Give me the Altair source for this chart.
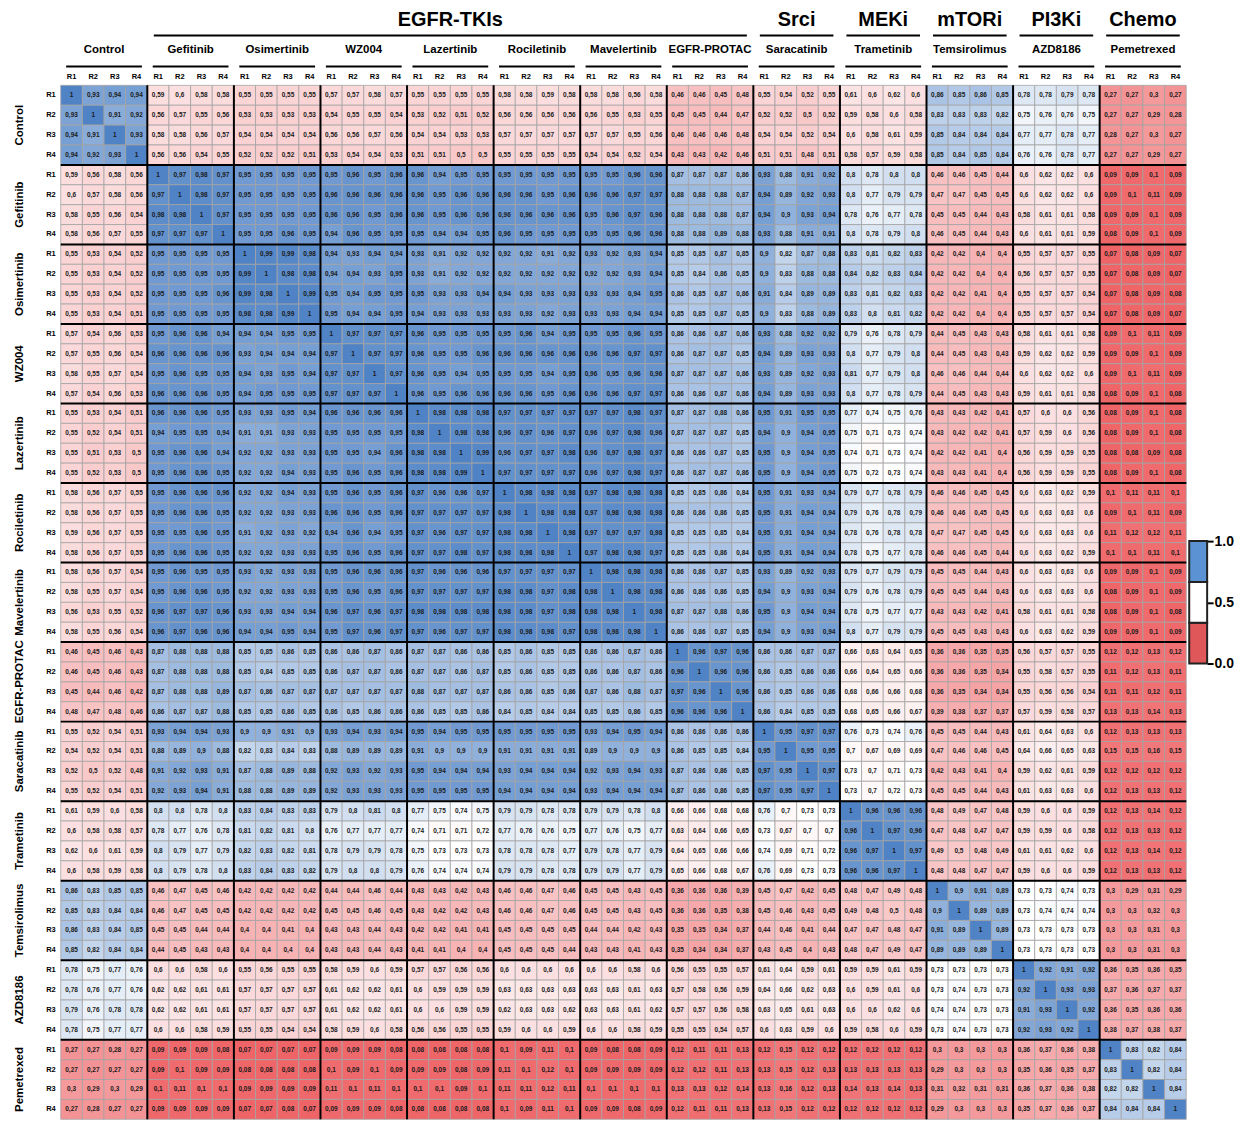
import altair as alt
import pandas as pd

drugs = ["Control", "Gefitinib", "Osimertinib", "WZ004", "Lazertinib", "Rociletinib",
         "Mavelertinib", "EGFR-PROTAC", "Saracatinib", "Trametinib", "Temsirolimus",
         "AZD8186", "Pemetrexed"]
reps = ["R1", "R2", "R3", "R4"]
classes = ["EGFR-TKIs", "Srci", "MEKi", "mTORi", "PI3Ki", "Chemo"]
class_first = [1, 8, 9, 10, 11, 12]
class_last = [7, 8, 9, 10, 11, 12]

# Upper-triangle blocks of the 52x52 correlation matrix (13x13 each)
U00 = [
    [1, .93, .94, .94, .59, .6, .58, .58, .55, .55, .55, .55, .57],
    [.93, 1, .91, .92, .56, .57, .55, .56, .53, .53, .53, .53, .54],
    [.94, .91, 1, .93, .58, .58, .56, .57, .54, .54, .54, .54, .56],
    [.94, .92, .93, 1, .56, .56, .54, .55, .52, .52, .52, .51, .53],
    [.59, .56, .58, .56, 1, .97, .98, .97, .95, .95, .95, .95, .95],
    [.6, .57, .58, .56, .97, 1, .98, .97, .95, .95, .95, .95, .96],
    [.58, .55, .56, .54, .98, .98, 1, .97, .95, .95, .95, .95, .96],
    [.58, .56, .57, .55, .97, .97, .97, 1, .95, .95, .96, .95, .94],
    [.55, .53, .54, .52, .95, .95, .95, .95, 1, .99, .99, .98, .94],
    [.55, .53, .54, .52, .95, .95, .95, .95, .99, 1, .98, .98, .94],
    [.55, .53, .54, .52, .95, .95, .95, .96, .99, .98, 1, .99, .95],
    [.55, .53, .54, .51, .95, .95, .95, .95, .98, .98, .99, 1, .95],
    [.57, .54, .56, .53, .95, .96, .96, .94, .94, .94, .95, .95, 1],
]
U01 = [
    [.57, .58, .57, .55, .55, .55, .55, .58, .58, .59, .58, .58, .58],
    [.55, .55, .54, .53, .52, .51, .52, .56, .56, .56, .56, .56, .55],
    [.56, .57, .56, .54, .54, .53, .53, .57, .57, .57, .57, .57, .57],
    [.54, .54, .53, .51, .51, .5, .5, .55, .55, .55, .55, .54, .54],
    [.96, .95, .96, .96, .94, .95, .95, .95, .95, .95, .95, .95, .95],
    [.96, .96, .96, .96, .95, .96, .96, .96, .96, .95, .96, .96, .96],
    [.96, .95, .96, .96, .95, .96, .96, .96, .96, .96, .96, .95, .96],
    [.96, .95, .95, .95, .94, .94, .95, .96, .95, .95, .95, .95, .95],
    [.93, .94, .94, .93, .91, .92, .92, .92, .92, .91, .92, .93, .92],
    [.94, .93, .95, .93, .91, .92, .92, .92, .92, .92, .92, .92, .92],
    [.94, .95, .95, .95, .93, .93, .94, .94, .93, .93, .93, .93, .93],
    [.94, .94, .95, .94, .93, .93, .93, .93, .93, .92, .93, .93, .93],
    [.97, .97, .97, .96, .95, .95, .95, .95, .96, .94, .95, .95, .95],
]
U02 = [
    [.56, .58, .46, .46, .45, .48, .55, .54, .52, .55, .61, .6, .62],
    [.53, .55, .45, .45, .44, .47, .52, .52, .5, .52, .59, .58, .6],
    [.55, .56, .46, .46, .46, .48, .54, .54, .52, .54, .6, .58, .61],
    [.52, .54, .43, .43, .42, .46, .51, .51, .48, .51, .58, .57, .59],
    [.96, .96, .87, .87, .87, .86, .93, .88, .91, .92, .8, .78, .8],
    [.97, .97, .88, .88, .88, .87, .94, .89, .92, .93, .8, .77, .79],
    [.97, .96, .88, .88, .88, .87, .94, .9, .93, .94, .78, .76, .77],
    [.96, .96, .88, .88, .89, .88, .93, .88, .91, .91, .8, .78, .79],
    [.93, .94, .85, .85, .87, .85, .9, .82, .87, .88, .83, .81, .82],
    [.93, .94, .85, .84, .86, .85, .9, .83, .88, .88, .84, .82, .83],
    [.94, .95, .86, .85, .87, .86, .91, .84, .89, .89, .83, .81, .82],
    [.94, .94, .85, .85, .87, .85, .9, .83, .88, .89, .83, .8, .81],
    [.96, .95, .86, .86, .87, .86, .93, .88, .92, .92, .79, .76, .78],
]
U03 = [
    [.6, .86, .85, .86, .85, .78, .78, .79, .78, .27, .27, .3, .27],
    [.58, .83, .83, .83, .82, .75, .76, .76, .75, .27, .27, .29, .28],
    [.59, .85, .84, .84, .84, .77, .77, .78, .77, .28, .27, .3, .27],
    [.58, .85, .84, .85, .84, .76, .76, .78, .77, .27, .27, .29, .27],
    [.8, .46, .46, .45, .44, .6, .62, .62, .6, .09, .09, .1, .09],
    [.79, .47, .47, .45, .45, .6, .62, .62, .6, .09, .1, .11, .09],
    [.78, .45, .45, .44, .43, .58, .61, .61, .58, .09, .09, .1, .09],
    [.8, .46, .45, .44, .43, .6, .61, .61, .59, .08, .09, .1, .09],
    [.83, .42, .42, .4, .4, .55, .57, .57, .55, .07, .08, .09, .07],
    [.84, .42, .42, .4, .4, .56, .57, .57, .55, .07, .08, .09, .07],
    [.83, .42, .42, .41, .4, .55, .57, .57, .54, .07, .08, .09, .08],
    [.82, .42, .42, .4, .4, .55, .57, .57, .54, .07, .08, .09, .07],
    [.79, .44, .45, .43, .43, .58, .61, .61, .58, .09, .1, .11, .09],
]
U11 = [
    [1, .97, .97, .96, .95, .95, .96, .96, .96, .96, .96, .96, .96],
    [.97, 1, .97, .96, .95, .94, .95, .95, .95, .94, .95, .96, .95],
    [.97, .97, 1, .96, .95, .96, .96, .96, .96, .95, .96, .96, .96],
    [.96, .96, .96, 1, .98, .98, .98, .97, .97, .97, .97, .97, .97],
    [.95, .95, .95, .98, 1, .98, .98, .96, .97, .96, .97, .96, .97],
    [.95, .94, .96, .98, .98, 1, .99, .96, .97, .97, .98, .96, .97],
    [.96, .95, .96, .98, .98, .99, 1, .97, .97, .97, .97, .96, .97],
    [.96, .95, .96, .97, .96, .96, .97, 1, .98, .98, .98, .97, .98],
    [.96, .95, .96, .97, .97, .97, .97, .98, 1, .98, .98, .97, .98],
    [.96, .94, .95, .97, .96, .97, .97, .98, .98, 1, .98, .97, .97],
    [.96, .95, .96, .97, .97, .98, .97, .98, .98, .98, 1, .97, .98],
    [.96, .96, .96, .97, .96, .96, .96, .97, .97, .97, .97, 1, .98],
    [.96, .95, .96, .97, .97, .97, .97, .98, .98, .97, .98, .98, 1],
]
U12 = [
    [.97, .97, .86, .87, .87, .85, .94, .89, .93, .93, .8, .77, .79],
    [.96, .96, .87, .87, .87, .86, .93, .89, .92, .93, .81, .77, .79],
    [.97, .97, .86, .86, .87, .86, .94, .89, .93, .93, .8, .77, .78],
    [.98, .97, .87, .87, .88, .86, .95, .91, .95, .95, .77, .74, .75],
    [.98, .96, .87, .87, .87, .85, .94, .9, .94, .95, .75, .71, .73],
    [.98, .97, .86, .86, .87, .85, .95, .9, .94, .95, .74, .71, .73],
    [.98, .97, .86, .87, .87, .86, .95, .9, .94, .95, .75, .72, .73],
    [.98, .98, .85, .85, .86, .84, .95, .91, .93, .94, .79, .77, .78],
    [.98, .98, .86, .86, .86, .85, .95, .91, .94, .94, .79, .76, .78],
    [.97, .98, .85, .85, .85, .84, .95, .91, .94, .94, .78, .76, .78],
    [.98, .97, .85, .85, .86, .84, .95, .91, .94, .94, .78, .75, .77],
    [.98, .98, .86, .86, .87, .85, .93, .89, .92, .93, .79, .77, .79],
    [.98, .98, .86, .86, .86, .85, .94, .9, .93, .94, .79, .76, .78],
]
U13 = [
    [.8, .44, .45, .43, .43, .59, .62, .62, .59, .09, .09, .1, .09],
    [.8, .46, .46, .44, .44, .6, .62, .62, .6, .09, .1, .11, .09],
    [.79, .44, .45, .43, .43, .59, .61, .61, .58, .08, .09, .1, .08],
    [.76, .43, .43, .42, .41, .57, .6, .6, .56, .08, .09, .1, .08],
    [.74, .43, .42, .42, .41, .57, .59, .6, .56, .08, .09, .1, .08],
    [.74, .42, .42, .41, .4, .56, .59, .59, .55, .08, .08, .09, .08],
    [.74, .43, .43, .41, .4, .56, .59, .59, .55, .08, .09, .1, .08],
    [.79, .46, .46, .45, .45, .6, .63, .62, .59, .1, .11, .11, .1],
    [.79, .46, .46, .45, .45, .6, .63, .63, .6, .09, .1, .11, .09],
    [.78, .47, .47, .45, .45, .6, .63, .63, .6, .11, .12, .12, .11],
    [.78, .46, .46, .45, .44, .6, .63, .62, .59, .1, .1, .11, .1],
    [.79, .45, .45, .44, .43, .6, .63, .63, .6, .09, .09, .1, .09],
    [.79, .45, .45, .44, .43, .6, .63, .63, .6, .08, .09, .1, .09],
]
U22 = [
    [1, .98, .87, .87, .88, .86, .95, .9, .94, .94, .78, .75, .77],
    [.98, 1, .86, .86, .87, .85, .94, .9, .93, .94, .8, .77, .79],
    [.87, .86, 1, .96, .97, .96, .86, .86, .87, .87, .66, .63, .64],
    [.87, .86, .96, 1, .96, .96, .86, .85, .86, .86, .66, .64, .65],
    [.88, .87, .97, .96, 1, .96, .86, .85, .86, .86, .68, .66, .66],
    [.86, .85, .96, .96, .96, 1, .86, .84, .85, .85, .68, .65, .66],
    [.95, .94, .86, .86, .86, .86, 1, .95, .97, .97, .76, .73, .74],
    [.9, .9, .86, .85, .85, .84, .95, 1, .95, .95, .7, .67, .69],
    [.94, .93, .87, .86, .86, .85, .97, .95, 1, .97, .73, .7, .71],
    [.94, .94, .87, .86, .86, .85, .97, .95, .97, 1, .73, .7, .72],
    [.78, .8, .66, .66, .68, .68, .76, .7, .73, .73, 1, .96, .96],
    [.75, .77, .63, .64, .66, .65, .73, .67, .7, .7, .96, 1, .97],
    [.77, .79, .64, .65, .66, .66, .74, .69, .71, .72, .96, .97, 1],
]
U23 = [
    [.77, .43, .43, .42, .41, .58, .61, .61, .58, .08, .09, .1, .08],
    [.79, .45, .45, .43, .43, .6, .63, .62, .59, .09, .09, .1, .09],
    [.65, .36, .36, .35, .35, .56, .57, .57, .55, .12, .12, .13, .12],
    [.66, .36, .36, .35, .34, .55, .58, .57, .55, .11, .12, .13, .11],
    [.68, .36, .35, .34, .34, .55, .56, .56, .54, .11, .11, .12, .11],
    [.67, .39, .38, .37, .37, .57, .59, .58, .57, .13, .13, .14, .13],
    [.76, .45, .45, .44, .43, .61, .64, .63, .6, .12, .13, .13, .13],
    [.69, .47, .46, .46, .45, .64, .66, .65, .63, .15, .15, .16, .15],
    [.73, .42, .43, .41, .4, .59, .62, .61, .59, .12, .12, .12, .12],
    [.73, .45, .45, .44, .43, .61, .63, .63, .6, .12, .13, .13, .12],
    [.96, .48, .49, .47, .48, .59, .6, .6, .59, .12, .13, .14, .12],
    [.96, .47, .48, .47, .47, .59, .59, .6, .58, .12, .13, .13, .12],
    [.97, .49, .5, .48, .49, .61, .61, .62, .6, .12, .13, .14, .12],
]
U33 = [
    [1, .48, .48, .47, .47, .59, .6, .6, .59, .12, .13, .13, .12],
    [.48, 1, .9, .91, .89, .73, .73, .74, .73, .3, .29, .31, .29],
    [.48, .9, 1, .89, .89, .73, .74, .74, .74, .3, .3, .32, .3],
    [.47, .91, .89, 1, .89, .73, .73, .73, .73, .3, .3, .31, .3],
    [.47, .89, .89, .89, 1, .73, .73, .73, .73, .3, .3, .31, .3],
    [.59, .73, .73, .73, .73, 1, .92, .91, .92, .36, .35, .36, .35],
    [.6, .73, .74, .73, .73, .92, 1, .93, .93, .37, .36, .37, .37],
    [.6, .74, .74, .73, .73, .91, .93, 1, .92, .36, .35, .36, .36],
    [.59, .73, .74, .73, .73, .92, .93, .92, 1, .38, .37, .38, .37],
    [.12, .3, .3, .3, .3, .36, .37, .36, .38, 1, .83, .82, .84],
    [.13, .29, .3, .3, .3, .35, .36, .35, .37, .83, 1, .82, .84],
    [.13, .31, .32, .31, .31, .36, .37, .36, .38, .82, .82, 1, .84],
    [.12, .29, .3, .3, .3, .35, .37, .36, .37, .84, .84, .84, 1],
]

legend_ticks = [0.0, 0.5, 1.0]
legend_lo = [0.0, 1 / 3, 2 / 3]
legend_hi = [1 / 3, 2 / 3, 1.0]
legend_colors = ["#e0575a", "#ffffff", "#5b92d3"]

# ---- assemble the full symmetric matrix ----
blocks = {(0, 0): U00, (0, 1): U01, (0, 2): U02, (0, 3): U03, (1, 1): U11,
          (1, 2): U12, (1, 3): U13, (2, 2): U22, (2, 3): U23, (3, 3): U33}
B = 13
N = 4 * B
M = [[None] * N for _ in range(N)]
for (bi, bj), blk in blocks.items():
    for r in range(B):
        for c in range(B):
            i, j = bi * B + r, bj * B + c
            M[i][j] = blk[r][c]
            if bi != bj:
                M[j][i] = blk[r][c]

rows = []
for i in range(N):
    for j in range(N):
        v = M[i][j]
        rows.append({"x": j, "x2": j + 1, "cx": j + 0.5, "y": i, "y2": i + 1,
                     "cy": i + 0.5, "v": v, "label": f"{v:g}".replace(".", ",")})
cells = pd.DataFrame(rows)

drug_df = pd.DataFrame({"name": drugs,
                        "c": [4 * k + 2 for k in range(len(drugs))],
                        "s": [4 * k + 0.25 for k in range(len(drugs))],
                        "e": [4 * k + 3.75 for k in range(len(drugs))]})
rep_df = pd.DataFrame({"r": [reps[k % 4] for k in range(N)],
                       "c": [k + 0.5 for k in range(N)]})
class_df = pd.DataFrame({"name": classes,
                         "c": [(4 * f + 4 * (l + 1)) / 2 for f, l in zip(class_first, class_last)],
                         "s": [4 * f + 0.3 for f in class_first],
                         "e": [4 * (l + 1) - 0.3 for l in class_last]})
bounds = pd.DataFrame({"b": [4 * k for k in range(1, len(drugs))], "lo": 0, "hi": N})

FONT = "Liberation Sans"
xs = alt.Scale(domain=[0, N], nice=False, zero=False)
ys = alt.Scale(domain=[0, N], nice=False, zero=False, reverse=True)

color_scale = alt.Scale(domain=[0.07, 0.73, 1.0],
                        range=["#ef6467", "#ffffff", "#4f83c6"], interpolate="rgb")

rects = alt.Chart(cells).mark_rect(stroke="#a3a3a3", strokeWidth=0.8).encode(
    x=alt.X("x:Q", scale=xs, axis=None), x2="x2",
    y=alt.Y("y:Q", scale=ys, axis=None), y2="y2",
    color=alt.Color("v:Q", scale=color_scale, legend=None),
)
texts = alt.Chart(cells).mark_text(font=FONT, fontSize=6.5, fontWeight="bold",
                                   color="#1a1a1a").encode(
    x=alt.X("cx:Q", scale=xs), y=alt.Y("cy:Q", scale=ys), text="label:N")

vlines = alt.Chart(bounds).mark_rule(color="black", strokeWidth=2).encode(
    x=alt.X("b:Q", scale=xs), y=alt.Y("lo:Q", scale=ys), y2="hi")
hlines = alt.Chart(bounds).mark_rule(color="black", strokeWidth=2).encode(
    y=alt.Y("b:Q", scale=ys), x=alt.X("lo:Q", scale=xs), x2="hi")

# top headers
top_drug = alt.Chart(drug_df).mark_text(font=FONT, fontSize=11.5, fontWeight="bold",
                                        baseline="middle").encode(
    x=alt.X("c:Q", scale=xs), y=alt.value(-36), text="name:N")
top_drug_line = alt.Chart(drug_df).mark_rule(color="black", strokeWidth=2).encode(
    x=alt.X("s:Q", scale=xs), x2="e", y=alt.value(-19))
top_rep = alt.Chart(rep_df).mark_text(font=FONT, fontSize=7.5, fontWeight="bold",
                                      baseline="middle").encode(
    x=alt.X("c:Q", scale=xs), y=alt.value(-8), text="r:N")
top_class = alt.Chart(class_df).mark_text(font=FONT, fontSize=20, fontWeight="bold",
                                          baseline="middle").encode(
    x=alt.X("c:Q", scale=xs), y=alt.value(-66), text="name:N")
top_class_line = alt.Chart(class_df).mark_rule(color="black", strokeWidth=2).encode(
    x=alt.X("s:Q", scale=xs), x2="e", y=alt.value(-50))

# left headers
left_drug = alt.Chart(drug_df).mark_text(font=FONT, fontSize=11.5, fontWeight="bold",
                                         angle=270, baseline="middle").encode(
    y=alt.Y("c:Q", scale=ys), x=alt.value(-41), text="name:N")
left_rep = alt.Chart(rep_df).mark_text(font=FONT, fontSize=7.5, fontWeight="bold",
                                       align="right", baseline="middle").encode(
    y=alt.Y("c:Q", scale=ys), x=alt.value(-5), text="r:N")

heat = alt.layer(rects, texts, vlines, hlines, top_drug, top_drug_line, top_rep,
                 top_class, top_class_line, left_drug, left_rep)

leg_df = pd.DataFrame({"lo": legend_lo, "hi": legend_hi, "col": legend_colors,
                       "x0": 0, "x1": 1})
legend = alt.Chart(leg_df).mark_rect(stroke="#222222", strokeWidth=2).encode(
    x=alt.X("x0:Q", scale=alt.Scale(domain=[0, 1], range=[1134, 1152]), axis=None),
    x2="x1",
    y=alt.Y("lo:Q", scale=alt.Scale(domain=[0, 1], range=[581, 458], nice=False, zero=False),
            axis=alt.Axis(orient="right", offset=21, values=legend_ticks, format=".1f",
                          domain=False, grid=False, ticks=True, tickSize=6, tickWidth=2,
                          tickColor="black", labelFont=FONT, labelFontSize=14,
                          labelFontWeight="bold", labelColor="black", labelPadding=1,
                          title=None)),
    y2="hi",
    color=alt.Color("col:N", scale=None),
)

chart = alt.layer(heat, legend).resolve_scale(y="independent", x="independent").properties(
    width=1131, height=1039,
    padding={"left": 53, "top": 75, "right": 49, "bottom": 1},
    autosize=alt.AutoSizeParams(type="none"),
).configure_view(stroke=None)

chart.save("out.html", embed_options={"renderer": "svg", "actions": False})
